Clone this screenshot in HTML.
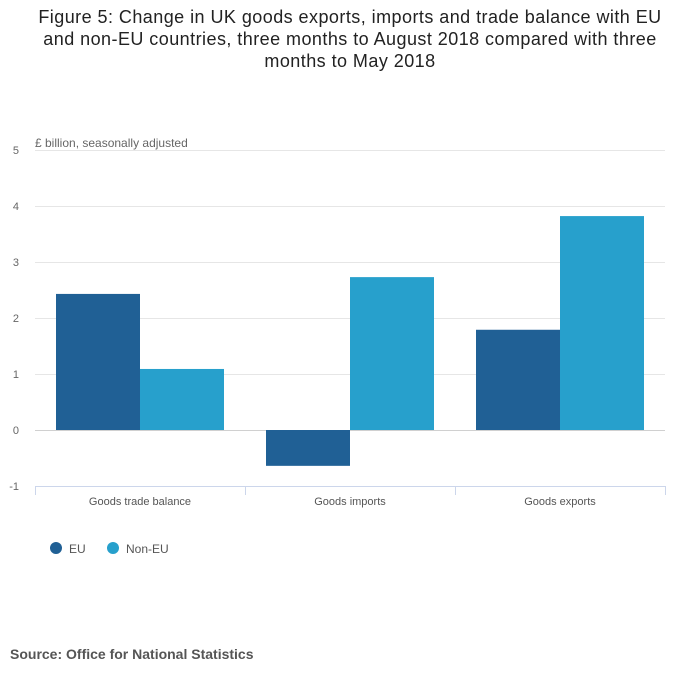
<!DOCTYPE html>
<html><head><meta charset="utf-8"><style>
body{margin:0;background:#fff;width:700px;height:682px;overflow:hidden;font-family:"Liberation Sans","DejaVu Sans",sans-serif}
#title{position:absolute;left:0;top:6px;width:700px;text-align:center;font-size:18px;line-height:22px;color:#222;letter-spacing:0.45px}
#src{position:absolute;left:10px;top:646px;font-size:14px;font-weight:bold;color:#555}
</style></head><body>
<div id="title">Figure 5: Change in UK goods exports, imports and trade balance with EU<br>and non-EU countries, three months to August 2018 compared with three<br>months to May 2018</div>
<svg id="chart" width="700" height="682" style="position:absolute;left:0;top:0"></svg>
<div id="src">Source: Office for National Statistics</div>
<script>
const categories=["Goods trade balance","Goods imports","Goods exports"];
const euValues=[2.43,-0.64,1.79];
const nonEuValues=[1.09,2.73,3.82];
const yTicks=[-1,0,1,2,3,4,5];
const seriesNames=["EU","Non-EU"];
const colors=["#206095","#27a0cc"];
const NS="http://www.w3.org/2000/svg";
const svg=document.getElementById('chart');
const x0=35,x1=665,yTop=150,yBot=486,vMin=-1,vMax=5;
const y=v=>yBot-(v-vMin)/(vMax-vMin)*(yBot-yTop);
const bw=(x1-x0)/categories.length;
function mk(t,a,p){const e=document.createElementNS(NS,t);for(const k in a)e.setAttribute(k,a[k]);(p||svg).appendChild(e);return e;}
yTicks.forEach(v=>{
 if(v>vMin){const l=mk('line',{x1:x0,x2:x1,y1:y(v)+0.5,y2:y(v)+0.5,stroke:v===0?'#d0d0d0':'#e6e6e6','stroke-width':1});
 
 }
 const t=mk('text',{x:19,y:y(v)+4,'text-anchor':'end','font-size':11,fill:'#666'});t.textContent=v;
 
 
});
const yl=mk('text',{x:35,y:147,'font-size':12,fill:'#666'});yl.textContent="£ billion, seasonally adjusted";


[euValues,nonEuValues].forEach((vals,s)=>{
 vals.forEach((v,i)=>{
  const bx=x0+i*bw+21+s*84;
  const r=mk('rect',{x:bx,y:Math.min(y(v),y(0)),width:84,height:Math.abs(y(v)-y(0)),fill:colors[s]});
  
  
 });
});
const ax=mk('line',{x1:x0,x2:x1,y1:yBot+0.5,y2:yBot+0.5,stroke:'#ccd6eb'});


for(let i=0;i<=categories.length;i++){
 const xx=x0+i*bw+0.5;
 mk('line',{x1:xx,x2:xx,y1:yBot,y2:yBot+9,stroke:'#ccd6eb'});
}
categories.forEach((c,i)=>{
 const t=mk('text',{x:x0+(i+0.5)*bw,y:505,'text-anchor':'middle','font-size':11,fill:'#555'});t.textContent=c;
 
 
});
const lx=[56,113];
seriesNames.forEach((n,s)=>{
 const g=mk('g',{});
 
 
 mk('circle',{cx:lx[s],cy:548,r:6,fill:colors[s]},g);
 const t=mk('text',{x:lx[s]+13,y:553,'font-size':12,fill:'#555'},g);t.textContent=n;
});
</script>
</body></html>
